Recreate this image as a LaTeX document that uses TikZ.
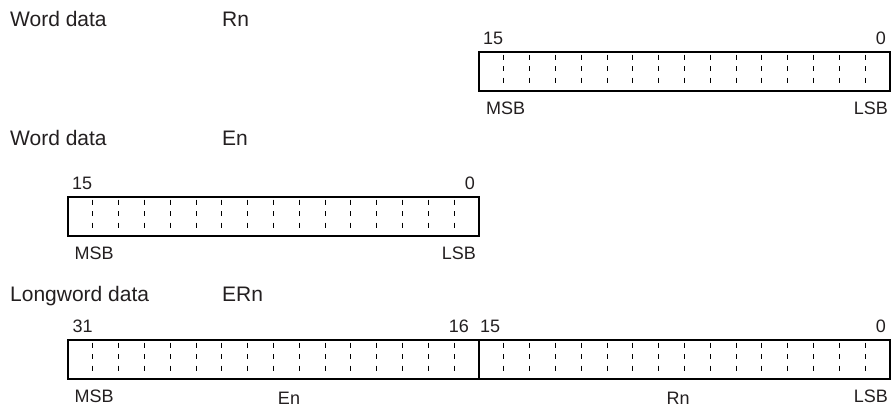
\documentclass[tikz,border=0pt]{standalone}
\usepackage{fontspec}
\setmainfont{Liberation Sans}
\usetikzlibrary{calc}
\definecolor{ink}{HTML}{231F20}
\begin{document}
\begin{tikzpicture}[x=1pt,y=-1pt,
  title/.style={inner sep=0pt, anchor=base west, text=ink, font=\fontsize{21}{24}\selectfont},
  lbl/.style={inner sep=0pt, text=ink, font=\fontsize{18}{20}\selectfont},
  regbox/.style={draw=black, line width=2pt, minimum width=411pt, minimum height=39pt, inner sep=0pt, anchor=north west},
  bitline/.style={draw=black, line width=1pt, dash pattern=on 5pt off 6.5pt}]
\useasboundingbox (0,0) rectangle (894,408);
% titles
\node[title] (t1) at (10,26) {Word data};
\node[title] (t1r) at (222,26) {Rn};
\node[title] (t2) at (10,145) {Word data};
\node[title] (t2r) at (222,145) {En};
\node[title] (t3) at (10,301) {Longword data};
\node[title] (t3r) at (222,301) {ERn};
% boxes
\node[regbox] (rn) at (478,51) {};
\node[regbox] (en) at (67,196) {};
\node[regbox] (erh) at (67,339) {};
\node[regbox] (erl) at (478,339) {};
% bit dividers
\foreach \b in {rn,en,erh,erl}{
  \foreach \k in {1,...,15}{
    \draw[bitline] ($(\b.north west)!{\k/16}!(\b.north east)+(0,3.5)$) -- ++(0,28);
  }
}
% Rn labels
\node[lbl, anchor=base west] (rn15) at ($(rn.north west)+(5,-6.5)$) {15};
\node[lbl, anchor=base east] (rn0) at ($(rn.north east)+(-5,-6.5)$) {0};
\node[lbl, anchor=base west] (rnmsb) at ($(rn.south west)+(8,22)$) {MSB};
\node[lbl, anchor=base east] (rnlsb) at ($(rn.south east)+(-3,22)$) {LSB};
% En labels
\node[lbl, anchor=base west] (en15) at ($(en.north west)+(5,-6.5)$) {15};
\node[lbl, anchor=base east] (en0) at ($(en.north east)+(-5,-6.5)$) {0};
\node[lbl, anchor=base west] (enmsb) at ($(en.south west)+(7.5,22)$) {MSB};
\node[lbl, anchor=base east] (enlsb) at ($(en.south east)+(-4,22)$) {LSB};
% ERn labels
\node[lbl, anchor=base west] (er31) at ($(erh.north west)+(5.5,-6.5)$) {31};
\node[lbl, anchor=base east] (er16) at ($(erh.north east)+(-11,-6.5)$) {16};
\node[lbl, anchor=base west] (er15) at ($(erl.north west)+(2,-6.5)$) {15};
\node[lbl, anchor=base east] (er0) at ($(erl.north east)+(-5,-6.5)$) {0};
\node[lbl, anchor=base west] (ermsb) at ($(erh.south west)+(7.5,22)$) {MSB};
\node[lbl, anchor=base east] (erlsb) at ($(erl.south east)+(-3,22)$) {LSB};
\node[lbl, anchor=base] (eren) at ($(erh.south)+(15.5,24.5)$) {En};
\node[lbl, anchor=base] (errn) at ($(erl.south)+(-6.5,24)$) {Rn};
\end{tikzpicture}
\end{document}
